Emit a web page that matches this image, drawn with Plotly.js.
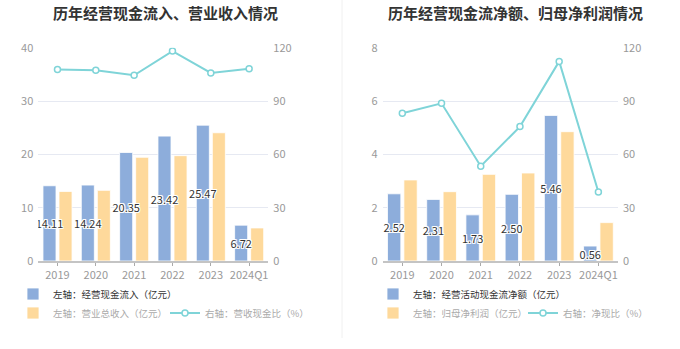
<!DOCTYPE html>
<html>
<head>
<meta charset="utf-8">
<script src="https://cdn.plot.ly/plotly-3.0.1.min.js"></script>
<style>
html,body{margin:0;padding:0;background:#fff;}
#chart{width:680px;height:349px;}
</style>
</head>
<body>
<div id="chart"></div>
<script>
// ---- data ----
var years = ['2019', '2020', '2021', '2022', '2023', '2024Q1'];
var cashInflow = [14.11, 14.24, 20.35, 23.42, 25.47, 6.72];
var revenue = [13.05, 13.25, 19.45, 19.75, 24.05, 6.2];
var cashRevRatio = [107.8, 107.3, 104.5, 118.1, 105.8, 108.2];
var netCashFlow = [2.52, 2.31, 1.73, 2.50, 5.46, 0.56];
var netProfit = [3.04, 2.60, 3.25, 3.30, 4.85, 1.44];
var netCashRatio = [83.1, 88.7, 53.3, 75.6, 112.3, 38.8];

var titles = ['历年经营现金流入、营业收入情况', '历年经营现金流净额、归母净利润情况'];
var namesLeft = ['左轴：经营现金流入（亿元）', '左轴：营业总收入（亿元）', '右轴：营收现金比（%）'];
var namesRight = ['左轴：经营活动现金流净额（亿元）', '左轴：归母净利润（亿元）', '右轴：净现比（%）'];

// ---- styles ----
var FONT = '"Noto Sans CJK SC", "Noto Sans", sans-serif';
var BLUE = '#8daddb';
var YELLOW = '#fed99b';
var CYAN = '#7fd4d8';
var shadow = '-1px -1px 0 #fff, 1px -1px 0 #fff, -1px 1px 0 #fff, 1px 1px 0 #fff, 0 1px 0 #fff, 0 -1px 0 #fff, 1px 0 0 #fff, -1px 0 0 #fff';
var BAR_W = 0.34;
var BLUE_OFF = -0.378;
var YELLOW_OFF = 0.04;

function barTrace(x, y, name, color, xa, ya, leg, labeled, off) {
  var t = {
    type: 'bar', x: x, y: y, name: name, xaxis: xa, yaxis: ya, legend: leg,
    width: BAR_W, offset: off,
    marker: {color: color, line: {color: 'rgba(255,255,255,0.8)', width: 1}},
    hoverinfo: 'skip'
  };
  if (labeled) {
    t.text = y.map(function (v) { return v.toFixed(2); });
    t.textposition = 'inside';
    t.insidetextanchor = 'middle';
    t.constraintext = 'none';
    t.textangle = 0;
    t.insidetextfont = {family: FONT, size: 11, color: '#333', shadow: shadow};
  } else {
    t.textposition = 'none';
  }
  return t;
}
function lineTrace(x, y, name, xa, ya, leg) {
  return {
    type: 'scatter', mode: 'lines+markers', x: x, y: y, name: name,
    xaxis: xa, yaxis: ya, legend: leg,
    line: {color: CYAN, width: 2},
    marker: {symbol: 'circle', size: 6, color: '#fff', line: {color: CYAN, width: 1.5}},
    hoverinfo: 'skip'
  };
}

// yellow bars first so blue-bar labels are painted on top of them
var data = [
  barTrace(years, revenue, namesLeft[1], YELLOW, 'x', 'y', 'legend2', false, YELLOW_OFF),
  barTrace(years, cashInflow, namesLeft[0], BLUE, 'x', 'y', 'legend', true, BLUE_OFF),
  lineTrace(years, cashRevRatio, namesLeft[2], 'x', 'y2', 'legend2'),
  barTrace(years, netProfit, namesRight[1], YELLOW, 'x2', 'y3', 'legend4', false, YELLOW_OFF),
  barTrace(years, netCashFlow, namesRight[0], BLUE, 'x2', 'y3', 'legend3', true, BLUE_OFF),
  lineTrace(years, netCashRatio, namesRight[2], 'x2', 'y4', 'legend4')
];

var W = 680, H = 349;
var yDom = [1 - 261 / H, 1 - 47.7 / H];
var tickFont = {family: FONT, size: 11, color: '#999'};

function xAxis(dom) {
  return {
    domain: dom, type: 'category', showgrid: false, zeroline: false,
    showline: true, linecolor: '#c4c4c4', linewidth: 2,
    ticks: 'outside', ticklen: 3, tickcolor: '#aaa',
    tickfont: tickFont, automargin: false, fixedrange: true
  };
}
function yAxis(range, dtick, anchor, side, overlay, grid) {
  var a = {
    domain: yDom, range: range, dtick: dtick, tick0: 0, anchor: anchor, side: side,
    showgrid: grid, gridcolor: '#e6e9f2', gridwidth: 1, zeroline: false,
    showline: false, ticks: '', tickfont: tickFont, automargin: false,
    ticklabelstandoff: 4, fixedrange: true
  };
  if (overlay) a.overlaying = overlay;
  return a;
}

function legendBox(x, y, color, ew) {
  var l = {
    orientation: 'h', x: x, y: y, xanchor: 'left', yanchor: 'middle',
    bgcolor: 'rgba(0,0,0,0)', borderwidth: 0,
    font: {family: FONT, size: 9.5, color: color},
    itemclick: false, itemdoubleclick: false, traceorder: 'normal'
  };
  if (ew) { l.entrywidth = ew; l.entrywidthmode = 'pixels'; }
  return l;
}

var layout = {
  width: W, height: H,
  margin: {l: 0, r: 0, t: 0, b: 0},
  paper_bgcolor: '#fff', plot_bgcolor: 'rgba(0,0,0,0)',
  font: {family: FONT},
  barmode: 'overlay',
  showlegend: true,
  xaxis: xAxis([38.3 / W, 268.3 / W]),
  yaxis: yAxis([0, 40], 10, 'x', 'left', null, true),
  yaxis2: yAxis([0, 120], 30, 'x', 'right', 'y', false),
  xaxis2: xAxis([382.7 / W, 618 / W]),
  yaxis3: yAxis([0, 8], 2, 'x2', 'left', null, true),
  yaxis4: yAxis([0, 120], 30, 'x2', 'right', 'y3', false),
  legend: legendBox(13 / W, 1 - 294 / H, '#333'),
  legend2: legendBox(13 / W, 1 - 313 / H, '#aaa', 107),
  legend3: legendBox(373 / W, 1 - 294 / H, '#333'),
  legend4: legendBox(373 / W, 1 - 313 / H, '#aaa', 105),
  annotations: [
    {text: '<b>' + titles[0] + '</b>', xref: 'paper', yref: 'paper', x: 165 / W, y: 1 - 12 / H,
     xanchor: 'center', yanchor: 'middle', showarrow: false, font: {family: FONT, size: 15, color: '#333'}},
    {text: '<b>' + titles[1] + '</b>', xref: 'paper', yref: 'paper', x: 515 / W, y: 1 - 12 / H,
     xanchor: 'center', yanchor: 'middle', showarrow: false, font: {family: FONT, size: 15, color: '#333'}}
  ],
  shapes: [
    {type: 'line', xref: 'paper', yref: 'paper', x0: 342 / W, x1: 342 / W, y0: 1 - 338 / H, y1: 1,
     line: {color: '#f0f0f0', width: 1}}
  ]
};

Plotly.newPlot('chart', data, layout, {displayModeBar: false, staticPlot: true});
</script>
</body>
</html>
